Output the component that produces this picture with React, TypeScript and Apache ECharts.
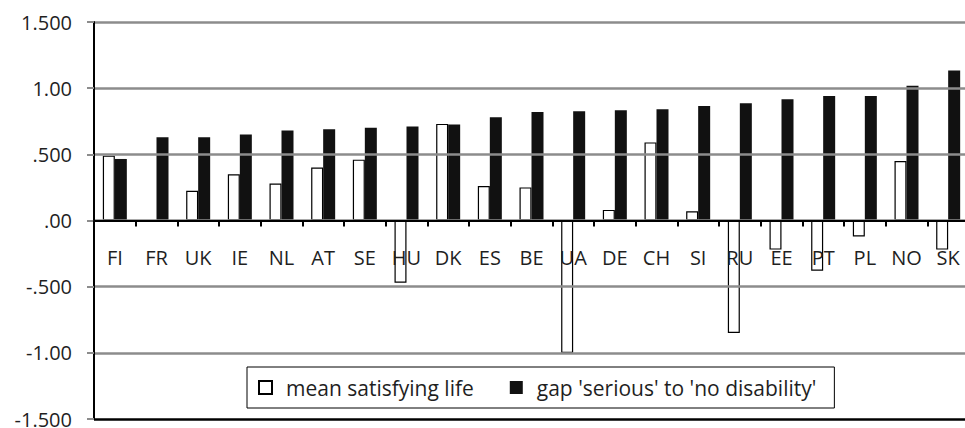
import React, { useEffect, useRef } from "react";
import * as echarts from "echarts";

const categories = ["FI", "FR", "UK", "IE", "NL", "AT", "SE", "HU", "DK", "ES", "BE", "UA", "DE", "CH", "SI", "RU", "EE", "PT", "PL", "NO", "SK"];
const meanSatisfyingLife = [0.49, null, 0.225, 0.35, 0.28, 0.4, 0.46, -0.47, 0.73, 0.26, 0.25, -1.0, 0.08, 0.59, 0.07, -0.85, -0.22, -0.38, -0.12, 0.45, -0.22];
const gapSeriousToNoDisability = [0.465, 0.63, 0.63, 0.65, 0.68, 0.69, 0.7, 0.71, 0.725, 0.78, 0.82, 0.825, 0.833, 0.84, 0.865, 0.886, 0.917, 0.94, 0.94, 1.018, 1.134];
const seriesNames = ["mean satisfying life", "gap 'serious' to 'no disability'"];
const yTickLabels = ["-1.500", "-1.00", "-.500", ".00", ".500", "1.00", "1.500"];
const yMin = -1.5;
const yMax = 1.5;
const yInterval = 0.5;

const FONT = "'Open Sans', 'Liberation Sans', sans-serif";
const TEXT = "#1f1f1f";
const GRID_GRAY = "#8c8c8c";

export default function App() {
  const ref = useRef<HTMLDivElement>(null);
  useEffect(() => {
    if (!ref.current) return;
    const chart = echarts.init(ref.current, undefined, { renderer: "svg" });
    chart.setOption({
      animation: false,
      backgroundColor: "#ffffff",
      textStyle: { fontFamily: FONT },
      grid: { left: 94, right: -4, top: 22, bottom: 9, containLabel: false, outerBoundsMode: "none" },
      legend: {
        left: 247,
        top: 367,
        orient: "horizontal",
        data: seriesNames,
        icon: "rect",
        itemWidth: 13,
        itemHeight: 13,
        itemGap: 36,
        borderColor: "#000",
        borderWidth: 1,
        borderRadius: 0,
        padding: [10, 18, 10, 11],
        backgroundColor: "#fff",
        textStyle: { fontFamily: FONT, fontSize: 21, color: TEXT, lineHeight: 20, padding: [0, 0, 0, 9] },
      },
      xAxis: {
        type: "category",
        data: categories,
        z: 5,
        offset: 0,
        axisLine: { show: true, onZero: false, lineStyle: { color: "#000", width: 2 } },
        axisTick: { show: true, length: 6, lineStyle: { color: "#000", width: 2 } },
        axisLabel: { margin: 27, fontSize: 20, color: TEXT, fontFamily: FONT, interval: 0 },
        splitLine: { show: false },
      },
      yAxis: {
        type: "value",
        min: yMin,
        max: yMax,
        interval: yInterval,
        z: 4,
        axisLine: { show: true, lineStyle: { color: "#000", width: 2 } },
        axisTick: { show: true, length: 7, lineStyle: { color: GRID_GRAY, width: 2 } },
        axisLabel: {
          margin: 22,
          fontSize: 20,
          color: TEXT,
          fontFamily: FONT,
          formatter: (v: number) => yTickLabels[Math.round((v - yMin) / yInterval)],
        },
        splitLine: {
          show: true,
          lineStyle: { color: ["#000", GRID_GRAY, GRID_GRAY, GRID_GRAY, GRID_GRAY, GRID_GRAY, GRID_GRAY], width: 2.5 },
        },
      },
      series: [
        {
          name: seriesNames[0],
          type: "bar",
          data: meanSatisfyingLife,
          barWidth: 12,
          barGap: "0%",
          itemStyle: { color: "#ffffff", borderColor: "#000", borderWidth: 1.2 },
        },
        {
          name: seriesNames[1],
          type: "bar",
          data: gapSeriousToNoDisability,
          barWidth: 12,
          barGap: "0%",
          itemStyle: { color: "#111111" },
        },
      ],
    });
    // place the category axis (line, ticks and labels) on the zero value of the y axis
    const zeroY = chart.convertToPixel({ yAxisIndex: 0 }, 0) as number;
    const bottomY = chart.convertToPixel({ yAxisIndex: 0 }, yMin) as number;
    chart.setOption({ xAxis: { offset: zeroY - bottomY } });
    return () => chart.dispose();
  }, []);
  return <div ref={ref} style={{ position: "fixed", left: 0, top: 0, width: 965, height: 428 }} />;
}
